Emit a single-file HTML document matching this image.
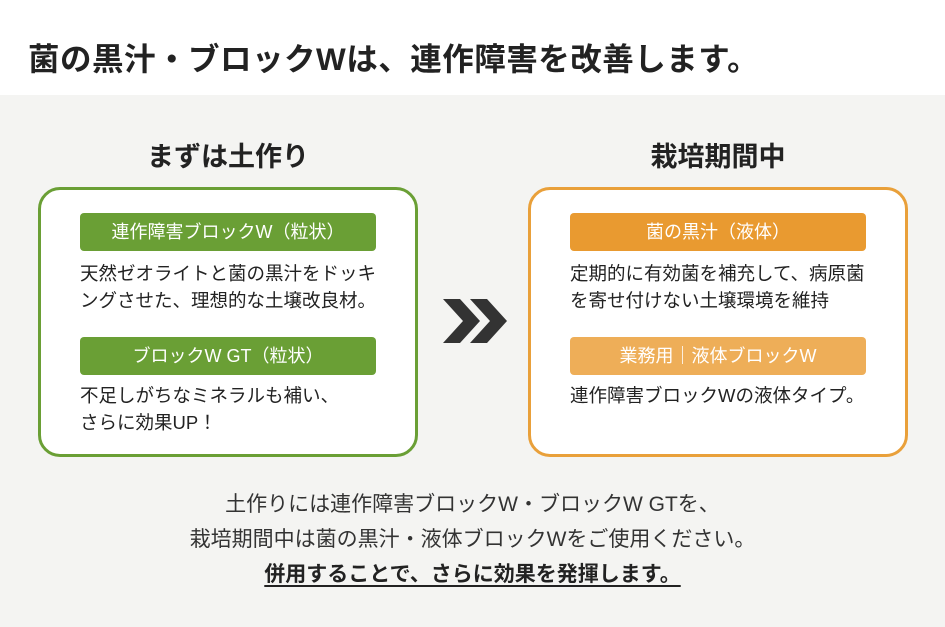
<!DOCTYPE html>
<html><head><meta charset="utf-8"><style>
*{margin:0;padding:0;box-sizing:border-box}
body{width:945px;height:627px;overflow:hidden;background:#fff;font-family:"Liberation Sans","Noto Sans CJK JP",sans-serif;color:#222;position:relative}
.title{position:absolute;left:28px;top:34px;font-size:31.5px;font-weight:bold;white-space:nowrap;letter-spacing:0.5px}
.bg{position:absolute;left:0;top:95px;width:945px;height:532px;background:#f4f4f2}
.h{position:absolute;top:135px;font-size:27px;font-weight:bold;text-align:center;width:380px}
.box{position:absolute;top:187px;width:380px;height:270px;background:#fff;border:3px solid;border-radius:22px}
.bar{position:absolute;left:39px;width:296px;height:38px;border-radius:4px;color:#fff;font-size:18px;text-align:center;line-height:38px}
.t{position:absolute;left:39px;font-size:18.5px;line-height:27px;white-space:nowrap;color:#222}
.b{position:absolute;left:0;width:945px;text-align:center;font-size:21px;color:#333}
</style></head><body>
<div class="title">菌の黒汁・ブロックWは、連作障害を改善します。</div>
<div class="bg"></div>
<div class="h" style="left:38px">まずは土作り</div>
<div class="h" style="left:528px">栽培期間中</div>
<div class="box" style="left:38px;border-color:#6a9f35">
 <div class="bar" style="top:23px;background:#6a9f35">連作障害ブロックW（粒状）</div>
 <div class="t" style="top:70px">天然ゼオライトと菌の黒汁をドッキ<br>ングさせた、理想的な土壌改良材。</div>
 <div class="bar" style="top:147px;background:#6a9f35">ブロックW GT（粒状）</div>
 <div class="t" style="top:192px">不足しがちなミネラルも補い、<br>さらに効果UP！</div>
</div>
<div class="box" style="left:528px;border-color:#e9a03a">
 <div class="bar" style="top:23px;background:#e99a30">菌の黒汁（液体）</div>
 <div class="t" style="top:70px">定期的に有効菌を補充して、病原菌<br>を寄せ付けない土壌環境を維持</div>
 <div class="bar" style="top:147px;background:#eeae58">業務用｜液体ブロックW</div>
 <div class="t" style="top:192px">連作障害ブロックWの液体タイプ。</div>
</div>
<svg style="position:absolute;left:440px;top:297px" width="70" height="50">
<polygon points="3,2 20,2 40,24 20,46 3,46 23,24" fill="#333"/>
<polygon points="30,2 47,2 67,24 47,46 30,46 50,24" fill="#333"/>
</svg>
<div class="b" style="top:488px">土作りには連作障害ブロックW・ブロックW GTを、</div>
<div class="b" style="top:523px">栽培期間中は菌の黒汁・液体ブロックWをご使用ください。</div>
<div class="b" style="top:558px;font-weight:bold;color:#222"><span style="text-decoration:underline;text-underline-offset:4px">併用することで、さらに効果を発揮します。</span></div>
</body></html>
